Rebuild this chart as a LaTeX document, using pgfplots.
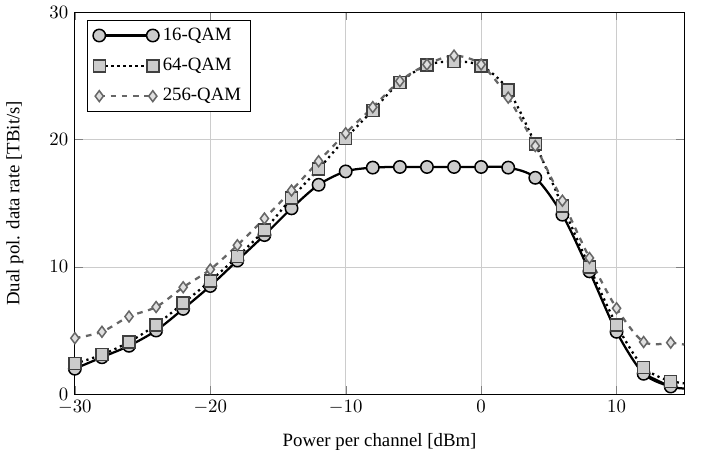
\documentclass[border=0pt]{standalone}
\usepackage{fontspec}
\setmainfont{Liberation Serif}
\usepackage{pgfplots}
\pgfplotsset{compat=1.18}

\begin{document}
\begin{tikzpicture}
\begin{axis}[
    scale only axis,
    width=324pt, height=203pt,
    xmin=-30, xmax=15, ymin=0, ymax=30,
    xtick={-30,-20,-10,0,10},
    ytick={0,10,20,30},
    grid=major,
    major grid style={lightgray!80},
    xlabel={Power per channel [dBm]},
    ylabel={Dual pol. data rate [TBit/s]},
    ylabel style={yshift=7pt},
    xlabel style={yshift=-3pt},
    legend pos=north west,
    legend cell align=left,
    legend style={draw=black, row sep=4pt, at={(0.02,0.98)}},
    legend image code/.code={
      \draw[#1] plot coordinates {(0cm,0cm) (1.0cm,0cm)};
    },
  ]
  % 16-QAM
  \addplot[black, very thick, smooth, mark=*,
      mark options={solid, fill=gray!40, draw=black, thick, mark size=3.3pt}]
    coordinates {
      (-30,2.0) (-28,2.9) (-26,3.8) (-24,5.0) (-22,6.7) (-20,8.5)
      (-18,10.5) (-16,12.5) (-14,14.6) (-12,16.45) (-10,17.5) (-8,17.8)
      (-6,17.85) (-4,17.85) (-2,17.85) (0,17.85) (2,17.8) (4,17.0)
      (6,14.1) (8,9.65) (10,4.9) (12,1.6) (14,0.6)
    };
  \addlegendentry{16-QAM}
  % 64-QAM
  \addplot[black, very thick, dotted, smooth, mark=square*,
      mark options={solid, fill=gray!40, draw=black!75, thick, mark size=3.2pt}]
    coordinates {
      (-30,2.4) (-28,3.1) (-26,4.1) (-24,5.45) (-22,7.15) (-20,8.9)
      (-18,10.8) (-16,12.9) (-14,15.4) (-12,17.7) (-10,20.1) (-8,22.3)
      (-6,24.5) (-4,25.85) (-2,26.15) (0,25.8) (2,23.9) (4,19.65)
      (6,14.8) (8,10.0) (10,5.45) (12,2.1) (14,1.0)
    };
  \addlegendentry{64-QAM}
  % 256-QAM
  \addplot[black!60, very thick, dashed, smooth, mark=diamond*,
      mark options={solid, fill=gray!25, draw=black!60, thick, mark size=2.9pt}]
    coordinates {
      (-30,4.4) (-28,4.9) (-26,6.1) (-24,6.85) (-22,8.4) (-20,9.8)
      (-18,11.7) (-16,13.8) (-14,16.0) (-12,18.3) (-10,20.5) (-8,22.55)
      (-6,24.6) (-4,25.9) (-2,26.6) (0,25.9) (2,23.3) (4,19.5)
      (6,15.2) (8,10.7) (10,6.75) (12,4.1) (14,4.05)
    };
  \addlegendentry{256-QAM}
  % line ends running on to the right border
  \addplot[black, very thick, smooth, forget plot] coordinates {(12,1.6) (14,0.6) (15,0.45)};
  \addplot[black, very thick, dotted, forget plot] coordinates {(14,1.0) (15,0.85)};
  \addplot[black!60, very thick, dashed, forget plot] coordinates {(14,4.05) (15,3.9)};
\end{axis}
\path (current axis.east) ++(10.5pt,0);
\end{tikzpicture}
\end{document}
